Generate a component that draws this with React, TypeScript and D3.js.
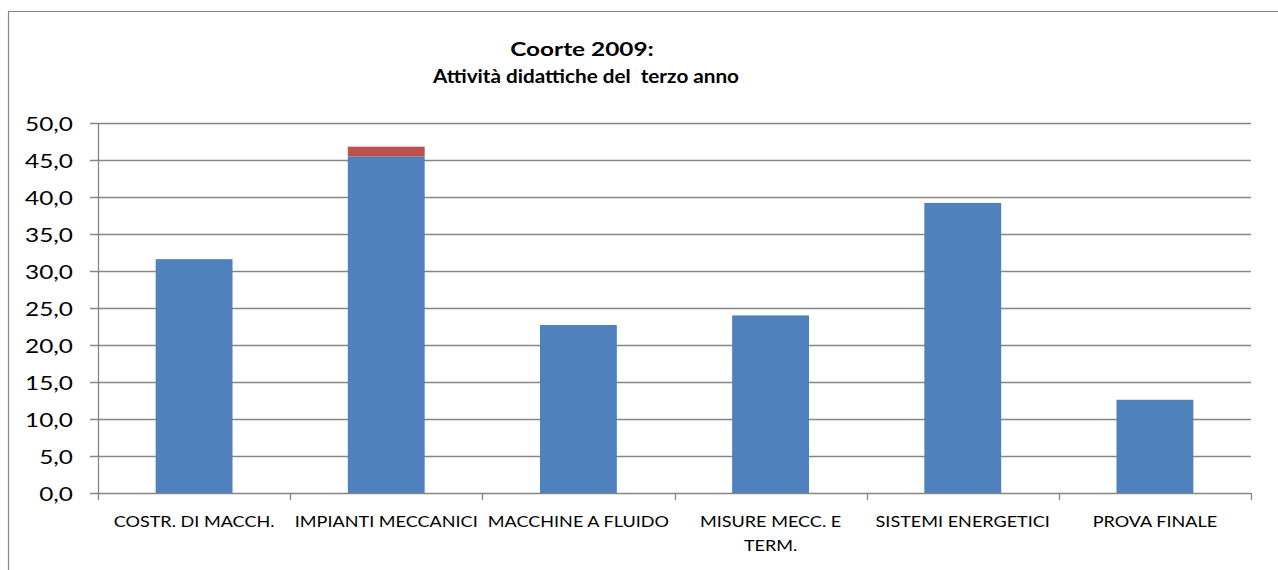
import React from "react";
import * as d3 from "d3";

const categories = [
  "COSTR. DI MACCH.",
  "IMPIANTI MECCANICI",
  "MACCHINE A FLUIDO",
  "MISURE MECC. E TERM.",
  "SISTEMI ENERGETICI",
  "PROVA FINALE",
];
const categoryLines = [
  ["COSTR. DI MACCH."],
  ["IMPIANTI MECCANICI"],
  ["MACCHINE A FLUIDO"],
  ["MISURE MECC. E", "TERM."],
  ["SISTEMI ENERGETICI"],
  ["PROVA FINALE"],
];
const seriesMain = [31.6, 45.5, 22.7, 24.0, 39.2, 12.6];
const seriesExtra = [0, 1.3, 0, 0, 0, 0];
const yTicks = [0, 5, 10, 15, 20, 25, 30, 35, 40, 45, 50];
const titleText = "Coorte 2009:";
const subtitleText = "Attività didattiche del  terzo anno";

const W = 1278;
const H = 570;
const left = 98;
const right = 1251;
const top = 123;
const bottom = 493;
const FONT = "Lato, Carlito, 'Open Sans', sans-serif";
const GRID = "#868686";

export default function App() {
  const x = d3.scaleBand<string>().domain(categories).range([left, right]).padding(0);
  const y = d3.scaleLinear().domain([0, 50]).range([bottom, top]);
  const rows = categories.map((c, i) => ({ cat: c, main: seriesMain[i], extra: seriesExtra[i] }));
  const stacked = d3.stack<any>().keys(["main", "extra"])(rows);
  const colors: Record<string, string> = { main: "#4F81BD", extra: "#C0504D" };
  const bw = x.bandwidth() * 0.4;
  const fmt = (v: number) => d3.format(".1f")(v).replace(".", ",");

  return (
    <svg
      width={W}
      height={H}
      style={{ position: "fixed", left: 0, top: 0, background: "#fff" }}
      fontFamily={FONT}
    >
      <rect x={0} y={0} width={W} height={H} fill="#fff" />
      <path d={`M8.5,${H + 5} V11.5 H${W + 5}`} fill="none" stroke="#868686" strokeWidth={1.2} />
      <g transform="translate(582,56) scale(1.25,1)">
        <text textAnchor="middle" fontWeight="bold" fontSize={19.5} fill="#000">
          {titleText}
        </text>
      </g>
      <g transform="translate(586,83) scale(1.15,1)">
        <text textAnchor="middle" fontWeight="bold" fontSize={18} fill="#000" style={{ whiteSpace: "pre" }}>
          {subtitleText}
        </text>
      </g>
      {yTicks.map((t) => (
        <g key={t}>
          <line x1={left - 8} x2={right} y1={Math.round(y(t)) + 0.5} y2={Math.round(y(t)) + 0.5} stroke={GRID} strokeWidth={1.3} />
          <g transform={`translate(73,${y(t) + 7.7}) scale(1.25,1)`}>
            <text textAnchor="end" fontSize={19.5} fill="#000">
              {fmt(t)}
            </text>
          </g>
        </g>
      ))}
      <line x1={left + 0.5} x2={left + 0.5} y1={top} y2={bottom} stroke={GRID} strokeWidth={1.3} />
      {stacked.map((s) =>
        s.map((d, i) =>
          d[1] - d[0] > 0 ? (
            <rect
              key={s.key + i}
              x={(x(categories[i]) as number) + (x.bandwidth() - bw) / 2}
              y={y(d[1])}
              width={bw}
              height={y(d[0]) - y(d[1])}
              fill={colors[s.key]}
            />
          ) : null
        )
      )}
      {categories.map((c) => (
        <line
          key={"t" + c}
          x1={Math.round(x(c) as number) + 0.5}
          x2={Math.round(x(c) as number) + 0.5}
          y1={bottom}
          y2={bottom + 7}
          stroke={GRID}
          strokeWidth={1.3}
        />
      ))}
      <line x1={right + 0.5} x2={right + 0.5} y1={bottom} y2={bottom + 7} stroke={GRID} strokeWidth={1.3} />
      {categories.map((c, i) => (
        <g
          key={"l" + c}
          transform={`translate(${(x(c) as number) + x.bandwidth() / 2},527) scale(1.115,1)`}
        >
          <text textAnchor="middle" fontSize={16.2} fill="#000">
            {categoryLines[i].map((ln, j) => (
              <tspan key={j} x={0} y={j * 24}>
                {ln}
              </tspan>
            ))}
          </text>
        </g>
      ))}
    </svg>
  );
}
